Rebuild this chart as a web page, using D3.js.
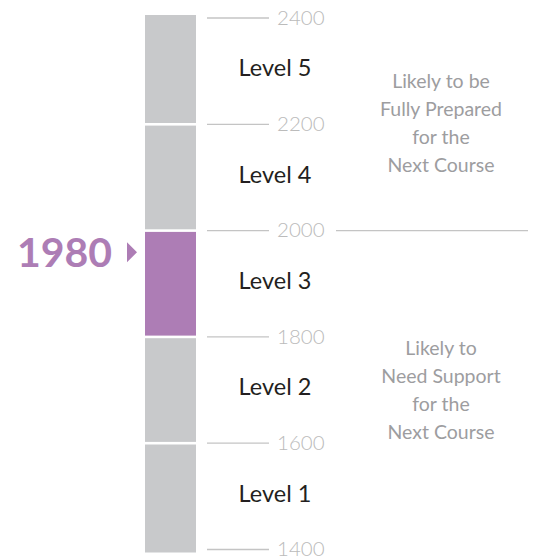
<!DOCTYPE html>
<html>
<head>
<meta charset="utf-8">
<script src="https://cdn.jsdelivr.net/npm/d3@7"></script>
<style>
  body { margin: 0; background: #fff; }
  text { font-family: Lato, "Open Sans", sans-serif; }
</style>
</head>
<body>
<script>
"use strict";
// chart data
var levelNames = ["Level 1", "Level 2", "Level 3", "Level 4", "Level 5"];
var levelCuts = [1400, 1600, 1800, 2000, 2200, 2400];
var tickValues = [1400, 1600, 1800, 2000, 2200, 2400];
var score = 1980;
var readyCut = 2000;
var upperNote = ["Likely to be", "Fully Prepared", "for the", "Next Course"];
var lowerNote = ["Likely to", "Need Support", "for the", "Next Course"];

var width = 533, height = 558;
var grey = "#c8c9cb", purple = "#ad7db5";

var svg = d3.select("body").append("svg")
  .attr("width", width).attr("height", height);

var y = d3.scaleLinear().domain([1400, 2400]).range([549.5, 18]);

// build level segments from the cut points
var levels = levelNames.map(function (name, i) {
  return { name: name, lo: levelCuts[i], hi: levelCuts[i + 1] };
});
var scoreLevel = levels.find(function (d) { return score >= d.lo && score < d.hi; });

var barX = 145, barW = 51;
function segTop(d, i) { return y(d.hi) + (i === levels.length - 1 ? -3 : 1.3); }
function segBot(d, i) { return y(d.lo) + (i === 0 ? 3 : -1.3); }

svg.selectAll(".seg").data(levels).enter().append("rect")
  .attr("class", "seg")
  .attr("x", barX)
  .attr("width", barW)
  .attr("y", segTop)
  .attr("height", function (d, i) { return segBot(d, i) - segTop(d, i); })
  .attr("fill", function (d) { return d === scoreLevel ? purple : grey; });

svg.selectAll(".lvl").data(levels).enter().append("text")
  .attr("class", "lvl")
  .attr("x", 275)
  .attr("y", function (d) { return (y(d.hi) + y(d.lo)) / 2 - 3; })
  .attr("dy", "0.35em")
  .attr("text-anchor", "middle")
  .attr("font-size", 23.5)
  .attr("fill", "#231f20")
  .text(function (d) { return d.name; });

// scale ticks
var ticks = svg.append("g");
ticks.selectAll("line").data(tickValues).enter().append("line")
  .attr("x1", 207).attr("x2", 269)
  .attr("y1", function (d) { return y(d); })
  .attr("y2", function (d) { return y(d); })
  .attr("stroke", "#c4c4c4").attr("stroke-width", 1.3);
ticks.selectAll("text").data(tickValues).enter().append("text")
  .attr("x", 277)
  .attr("y", function (d) { return y(d); })
  .attr("dy", "0.33em")
  .attr("font-size", 20.5)
  .attr("font-weight", 300)
  .attr("fill", "#bbbbbb")
  .text(function (d) { return d; });

// college-ready cut line
svg.append("line")
  .attr("x1", 336).attr("x2", 528)
  .attr("y1", y(readyCut)).attr("y2", y(readyCut))
  .attr("stroke", "#c4c4c4").attr("stroke-width", 1.3);

// notes above / below the cut
function note(lines, cy) {
  var pitch = 28;
  var start = cy - (lines.length - 1) * pitch / 2;
  svg.append("g").selectAll("text").data(lines).enter().append("text")
    .attr("x", 441)
    .attr("y", function (d, i) { return start + i * pitch; })
    .attr("dy", "0.35em")
    .attr("text-anchor", "middle")
    .attr("font-size", 19.5)
    .attr("fill", "#9d9d9f")
    .text(function (d) { return d; });
}
note(upperNote, (y(readyCut) + y(2400)) / 2 - 1);
note(lowerNote, (y(1400) + y(readyCut)) / 2);

// score marker
var my = y(score) + 11;
svg.append("text")
  .attr("x", 112).attr("y", my)
  .attr("dy", "0.36em")
  .attr("text-anchor", "end")
  .attr("font-size", 41)
  .attr("font-weight", 700)
  .attr("fill", purple)
  .text(score);
svg.append("path")
  .attr("d", d3.line()([[127, my - 10], [137, my], [127, my + 10]]) + "Z")
  .attr("fill", purple);
</script>
</body>
</html>
